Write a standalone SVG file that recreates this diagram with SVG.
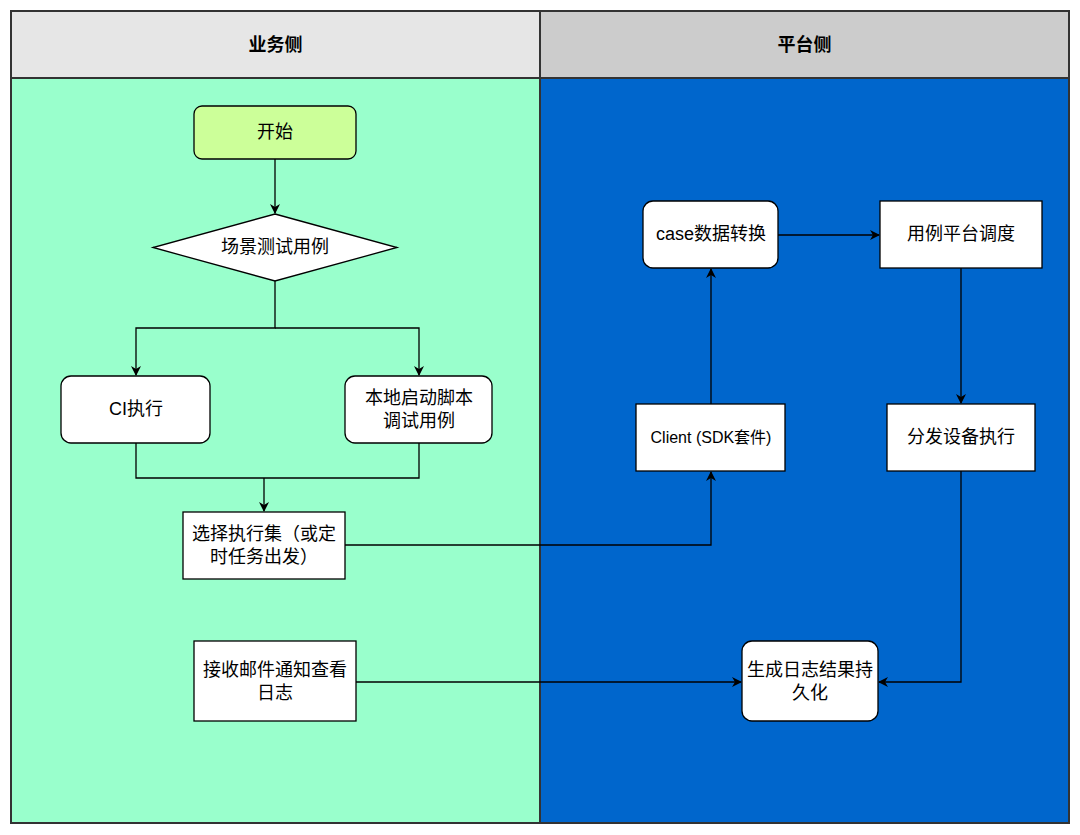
<svg xmlns="http://www.w3.org/2000/svg" width="1080" height="835" viewBox="0 0 1080 835">
<style>
text{font-family:"Liberation Sans","Noto Sans CJK SC",sans-serif;font-size:18px;fill:#000;text-anchor:middle;dominant-baseline:central}
.hd{font-weight:bold;font-size:18px}
.box{fill:#fff;stroke:#000;stroke-width:1.3}
.ln{fill:none;stroke:#000;stroke-width:1.3}
</style>
<defs>
<marker id="ar" viewBox="0 0 10 10" refX="9" refY="5" markerWidth="10" markerHeight="10" markerUnits="userSpaceOnUse" orient="auto">
<path d="M0,0 L10,5 L0,10 L3,5 Z" fill="#000"/>
</marker>
</defs>
<rect width="1080" height="835" fill="#fff"/>
<g id="lanes">
<rect x="11" y="11" width="529" height="67" fill="#e6e6e6" stroke="#333" stroke-width="2"/>
<rect x="540" y="11" width="529" height="67" fill="#cccccc" stroke="#333" stroke-width="2"/>
<rect x="11" y="78" width="529" height="745" fill="#99ffcc" stroke="#333" stroke-width="2"/>
<rect x="540" y="78" width="529" height="745" fill="#0066cc" stroke="#333" stroke-width="2"/>
<text class="hd" x="275.5" y="45">业务侧</text>
<text class="hd" x="804.5" y="45">平台侧</text>
</g>
<g id="connectors">
<path class="ln" d="M275,159 V213" marker-end="url(#ar)"/>
<path class="ln" d="M275,281 V328 H136 V375" marker-end="url(#ar)"/>
<path class="ln" d="M275,328 H419 V375" marker-end="url(#ar)"/>
<path class="ln" d="M136,443 V478 H419 V443"/>
<path class="ln" d="M264,478 V511" marker-end="url(#ar)"/>
<path class="ln" d="M345,545 H711 V472" marker-end="url(#ar)"/>
<path class="ln" d="M711,404 V269" marker-end="url(#ar)"/>
<path class="ln" d="M778,235 H879" marker-end="url(#ar)"/>
<path class="ln" d="M961,268 V403" marker-end="url(#ar)"/>
<path class="ln" d="M961,471 V682 H879" marker-end="url(#ar)"/>
<path class="ln" d="M356,682 H741" marker-end="url(#ar)"/>
</g>
<g id="start">
<rect x="194" y="106" width="162" height="53" rx="8" fill="#ccff99" stroke="#000" stroke-width="1.3"/>
<text x="275" y="132">开始</text>
</g>
<g id="scene">
<polygon class="box" points="275,214 397,247.5 275,281 153,247.5"/>
<text x="275" y="247">场景测试用例</text>
</g>
<g id="ci">
<rect class="box" x="61" y="376" width="149" height="67" rx="10"/>
<text x="136" y="409">CI执行</text>
</g>
<g id="local">
<rect class="box" x="345" y="376" width="147" height="67" rx="10"/>
<text x="419" y="398">本地启动脚本</text>
<text x="419" y="421">调试用例</text>
</g>
<g id="select">
<rect class="box" x="183" y="512" width="162" height="67"/>
<text x="264" y="534">选择执行集（或定</text>
<text x="264" y="557">时任务出发）</text>
</g>
<g id="mail">
<rect class="box" x="194" y="641" width="162" height="80"/>
<text x="275" y="670">接收邮件通知查看</text>
<text x="275" y="693">日志</text>
</g>
<g id="client">
<rect class="box" x="636" y="404" width="149" height="67"/>
<text x="711" y="437" style="font-size:16px">Client (SDK套件)</text>
</g>
<g id="case">
<rect class="box" x="643" y="201" width="135" height="67" rx="10"/>
<text x="711" y="234">case数据转换</text>
</g>
<g id="sched">
<rect class="box" x="880" y="201" width="162" height="67"/>
<text x="961" y="234">用例平台调度</text>
</g>
<g id="dispatch">
<rect class="box" x="887" y="404" width="148" height="67"/>
<text x="961" y="437">分发设备执行</text>
</g>
<g id="persist">
<rect class="box" x="742" y="641" width="136" height="80" rx="10"/>
<text x="810" y="670">生成日志结果持</text>
<text x="810" y="693">久化</text>
</g>
</svg>
